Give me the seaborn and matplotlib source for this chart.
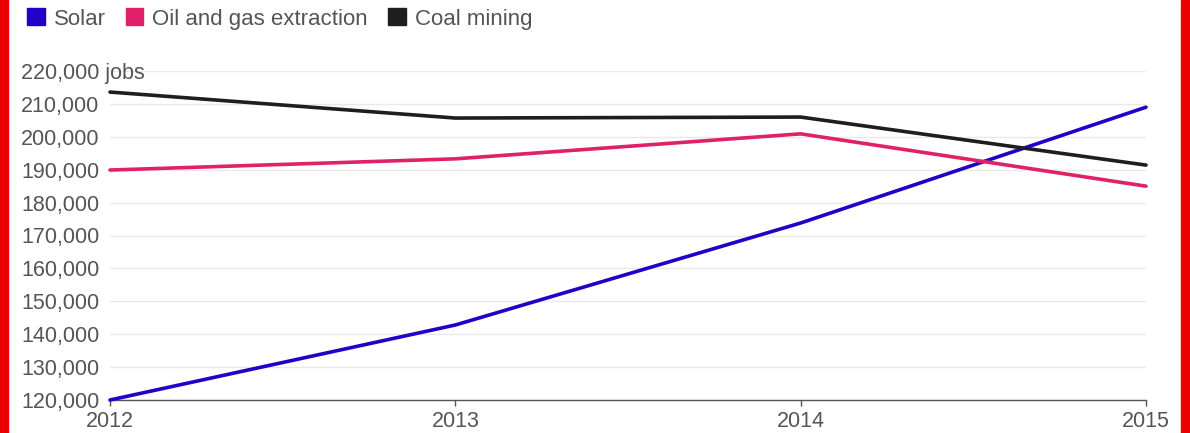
import pandas as pd
import seaborn as sns
import matplotlib.pyplot as plt
from matplotlib.patches import Patch, Rectangle

years = [2012, 2013, 2014, 2015]
solar = [120000, 142800, 173800, 209000]
oil_gas = [189900, 193300, 200900, 185000]
coal = [213600, 205700, 206000, 191400]

series_names = ["Solar", "Oil and gas extraction", "Coal mining"]
series_colors = ["#2200c8", "#e02068", "#1e1e1e"]
ytick_values = list(range(120000, 220001, 10000))


def make_chart():
    df = pd.DataFrame({
        "year": years * 3,
        "jobs": solar + oil_gas + coal,
        "sector": [series_names[0]] * 4 + [series_names[1]] * 4 + [series_names[2]] * 4,
    })

    sns.set_style("white")
    plt.rcParams["font.family"] = ["Liberation Sans", "DejaVu Sans"]

    fig = plt.figure(figsize=(11.9, 4.33), dpi=100)
    ax = fig.add_axes([110 / 1190, 1 - 400 / 433, (1146 - 110) / 1190, (400 - 71) / 433])

    sns.lineplot(
        data=df, x="year", y="jobs", hue="sector",
        palette=dict(zip(series_names, series_colors)),
        linewidth=2.6, legend=False, ax=ax, zorder=3,
    )
    for line in ax.get_lines():
        line.set_clip_on(False)

    ax.set_xlim(years[0], years[-1])
    ax.set_ylim(ytick_values[0], ytick_values[-1])
    ax.set_xticks(years)
    ax.set_xticklabels([str(y) for y in years])
    ax.set_yticks(ytick_values)
    labels = [f"{v:,}" for v in ytick_values]
    labels[-1] = labels[-1] + " jobs"
    ax.set_yticklabels(labels)
    for lab in ax.get_yticklabels():
        lab.set_horizontalalignment("left")

    ax.set_xlabel("")
    ax.set_ylabel("")
    ax.grid(axis="y", color="#e9e9e9", linewidth=1)
    ax.set_axisbelow(True)
    for side in ["top", "right", "left"]:
        ax.spines[side].set_visible(False)
    ax.spines["bottom"].set_color("#555555")
    ax.spines["bottom"].set_linewidth(1)
    ax.tick_params(axis="y", length=0, pad=64, labelsize=15.5, labelcolor="#555555")
    ax.tick_params(axis="x", length=4, width=1, color="#555555", direction="out",
                   bottom=True, pad=4, labelsize=15.5, labelcolor="#555555")

    handles = [Patch(facecolor=c, edgecolor=c, label=n) for n, c in zip(series_names, series_colors)]
    fig.legend(handles=handles, loc="upper left", bbox_to_anchor=(7 / 1190, 1.027),
               ncol=3, frameon=False, fontsize=16, handlelength=0.8, handleheight=0.8,
               handletextpad=0.4, columnspacing=0.9, labelcolor="#555555")

    # red frame on the sides
    fig.patches.append(Rectangle((0, 0), 8 / 1190, 1, transform=fig.transFigure,
                                 color="#ee0000", zorder=10))
    fig.patches.append(Rectangle((1 - 9 / 1190, 0), 9 / 1190, 1, transform=fig.transFigure,
                                 color="#ee0000", zorder=10))

    plt.savefig("out.png", dpi=100)


if __name__ == "__main__":
    make_chart()
